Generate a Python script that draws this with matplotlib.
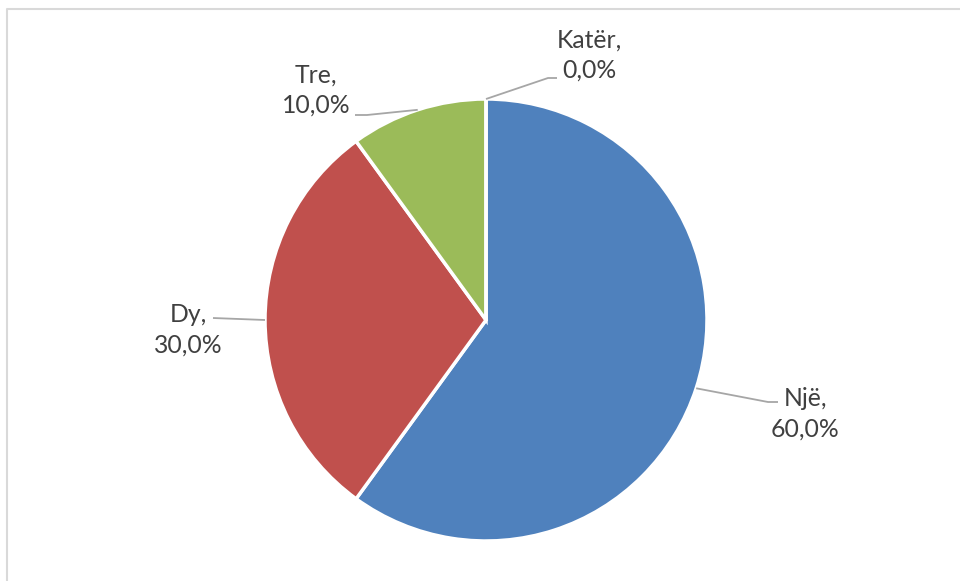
import numpy as np
import matplotlib.pyplot as plt

#============================================
# data
#============================================
labels = ['Një', 'Dy', 'Tre', 'Katër']
shares = [60.0, 30.0, 10.0, 0.0]
colors = ['#4F81BD', '#C0504D', '#9BBB59', '#8064A2']

# label block centre and leader-line knee, in pixels (x right, y down)
label_pos = [(805, 414), (188, 330), (316, 90), (589, 55)]
knee_pos = [[(768, 402), (778, 402)],
            [(213, 318)],
            [(367, 115), (355, 115)],
            [(548, 78), (557, 78)]]

W, H = 960, 581
cx, cy, R = 486, 320, 221


def px(x, y):
    """pixel (y down) -> data (y up)"""
    return x, H - y


def pct(v):
    """decimal comma percentage"""
    return ('%.1f' % v).replace('.', ',') + '%'


plt.rcParams['font.family'] = ['Lato', 'DejaVu Sans']
fig = plt.figure(figsize=(W/100, H/100), dpi=100)
ax = fig.add_axes([0, 0, 1, 1])

ax.pie(shares, colors=colors, startangle=90, counterclock=False,
       center=px(cx, cy), radius=R,
       wedgeprops=dict(edgecolor='white', linewidth=2.5))

# data labels with leader lines from the middle of each wedge
start = 90.0
for name, val, lp, knees in zip(labels, shares, label_pos, knee_pos):
    mid = np.deg2rad(start - val*3.6/2)
    start -= val*3.6
    x0 = cx + R*np.cos(mid)
    y0 = cy - R*np.sin(mid)
    pts = [(x0, y0)] + knees
    xs, ys = zip(*[px(*p) for p in pts])
    ax.plot(xs, ys, color='#A6A6A6', lw=1.3, solid_capstyle='butt')
    ax.text(*px(*lp), name + ',\n' + pct(val),
            ha='center', va='center', fontsize=17.8, color='#404040',
            linespacing=1.4)

# chart area border (right and bottom fall outside)
ax.plot([6.5, 6.5, W], [0, H - 8.5, H - 8.5], color='#D9D9D9', lw=1.5)

ax.set_xlim(0, W)
ax.set_ylim(0, H)
ax.set_aspect('auto')
ax.axis('off')
fig.savefig('out.png', dpi=100)
